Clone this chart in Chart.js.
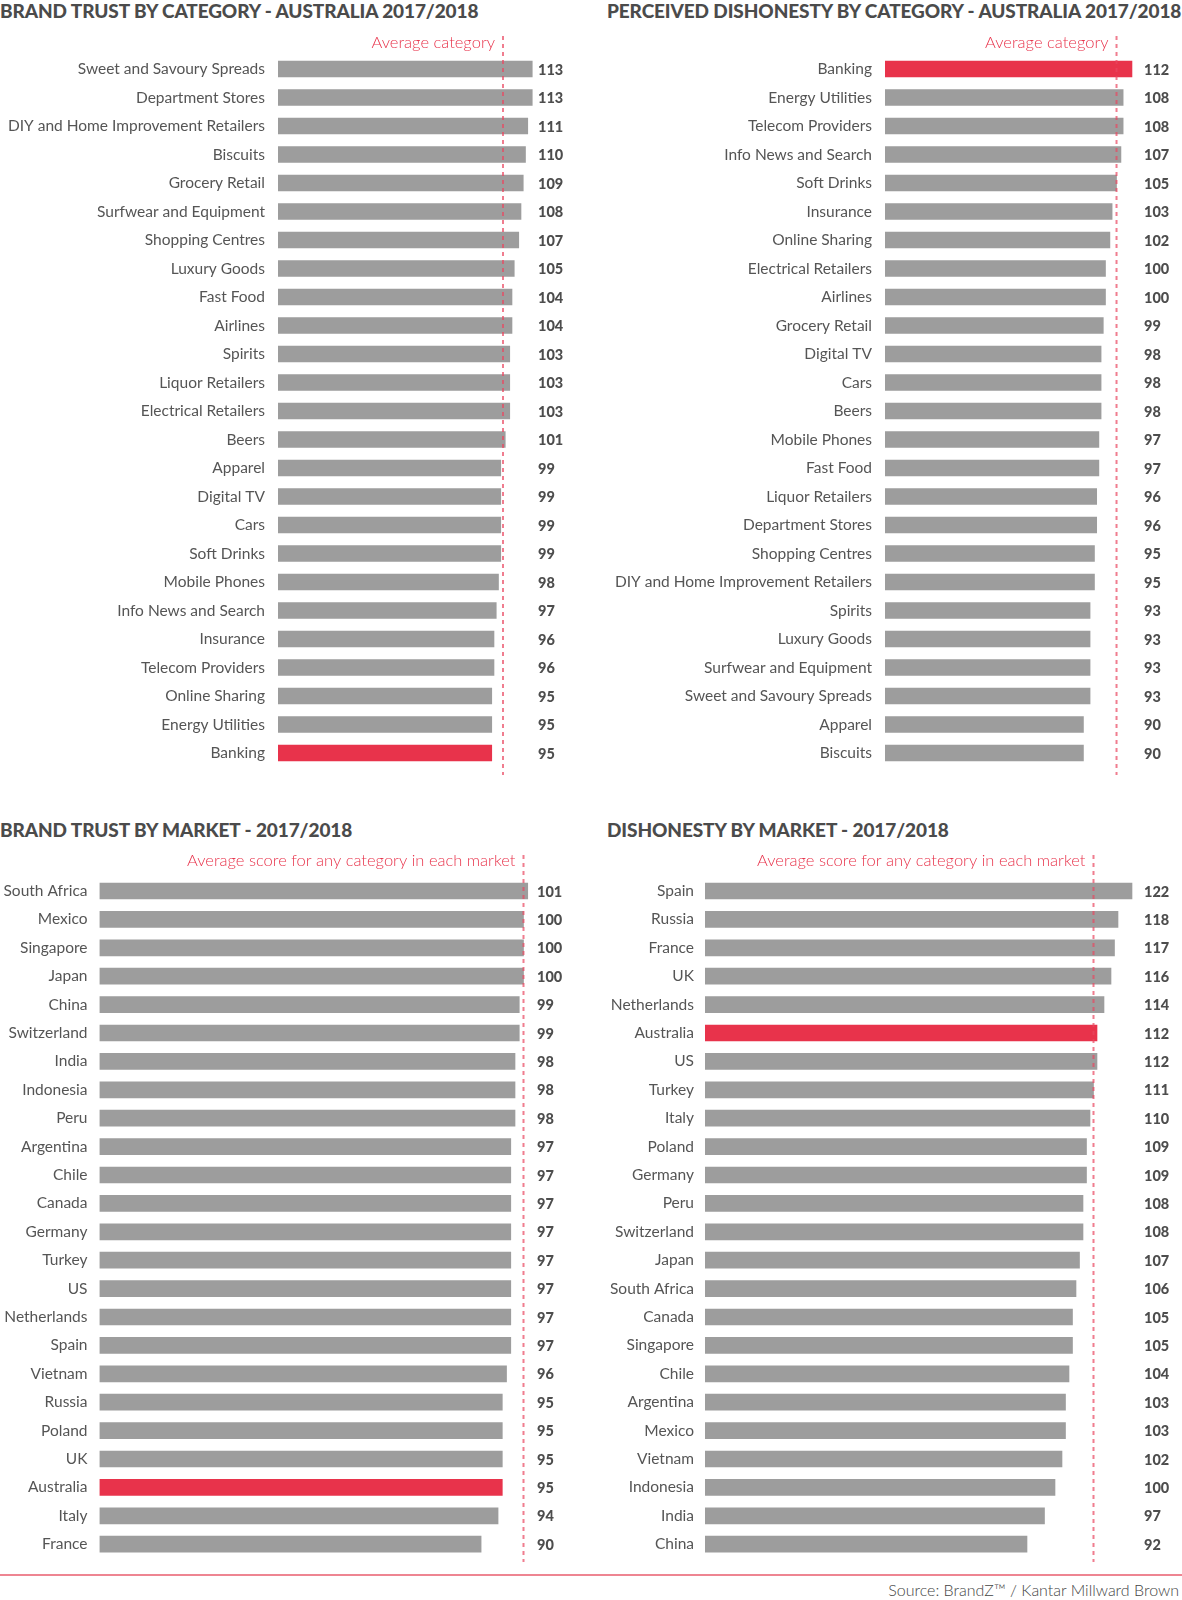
<!DOCTYPE html>
<html>
<head>
<meta charset="utf-8">
<script src="https://cdn.jsdelivr.net/npm/chart.js@4.4.1/dist/chart.umd.min.js"></script>
<style>
body { margin: 0; background: #fff; width: 1182px; height: 1600px; position: relative; overflow: hidden; font-family: Lato, sans-serif; }
.title { position: absolute; font-weight: 900; font-size: 19px; line-height: 1; color: #4b4b4b; white-space: nowrap; letter-spacing: -0.1px; }
canvas { position: absolute; }
#rule { position: absolute; left: 0; top: 1574px; width: 1182px; height: 2px; background: #ee8592; }
#source { position: absolute; right: 3px; top: 1580px; font-size: 16px; font-weight: 300; color: #444; white-space: nowrap; }
</style>
</head>
<body>
<div class="title" style="left:0;top:1px">BRAND TRUST BY CATEGORY - AUSTRALIA 2017/2018</div>
<div class="title" style="left:607px;top:1px">PERCEIVED DISHONESTY BY CATEGORY - AUSTRALIA 2017/2018</div>
<div class="title" style="left:0;top:820px">BRAND TRUST BY MARKET - 2017/2018</div>
<div class="title" style="left:607px;top:820px">DISHONESTY BY MARKET - 2017/2018</div>
<canvas id="trust-category"></canvas>
<canvas id="dishonesty-category"></canvas>
<canvas id="trust-market"></canvas>
<canvas id="dishonesty-market"></canvas>
<div id="rule"></div>
<div id="source">Source: BrandZ™ / Kantar Millward Brown</div>
<script>
const TRUST_CATEGORIES = [
    'Sweet and Savoury Spreads', 'Department Stores', 'DIY and Home Improvement Retailers', 'Biscuits',
    'Grocery Retail', 'Surfwear and Equipment', 'Shopping Centres', 'Luxury Goods', 'Fast Food', 'Airlines',
    'Spirits', 'Liquor Retailers', 'Electrical Retailers', 'Beers', 'Apparel', 'Digital TV', 'Cars',
    'Soft Drinks', 'Mobile Phones', 'Info News and Search', 'Insurance', 'Telecom Providers',
    'Online Sharing', 'Energy Utilities', 'Banking'
];
const TRUST_CATEGORY_SCORES = [113, 113, 111, 110, 109, 108, 107, 105, 104, 104, 103, 103, 103, 101, 99, 99, 99, 99, 98, 97, 96, 96, 95, 95, 95];

const DISHONESTY_CATEGORIES = [
    'Banking', 'Energy Utilities', 'Telecom Providers', 'Info News and Search', 'Soft Drinks', 'Insurance',
    'Online Sharing', 'Electrical Retailers', 'Airlines', 'Grocery Retail', 'Digital TV', 'Cars', 'Beers',
    'Mobile Phones', 'Fast Food', 'Liquor Retailers', 'Department Stores', 'Shopping Centres',
    'DIY and Home Improvement Retailers', 'Spirits', 'Luxury Goods', 'Surfwear and Equipment',
    'Sweet and Savoury Spreads', 'Apparel', 'Biscuits'
];
const DISHONESTY_CATEGORY_SCORES = [112, 108, 108, 107, 105, 103, 102, 100, 100, 99, 98, 98, 98, 97, 97, 96, 96, 95, 95, 93, 93, 93, 93, 90, 90];

const TRUST_MARKETS = [
    'South Africa', 'Mexico', 'Singapore', 'Japan', 'China', 'Switzerland', 'India', 'Indonesia', 'Peru',
    'Argentina', 'Chile', 'Canada', 'Germany', 'Turkey', 'US', 'Netherlands', 'Spain', 'Vietnam', 'Russia',
    'Poland', 'UK', 'Australia', 'Italy', 'France'
];
const TRUST_MARKET_SCORES = [101, 100, 100, 100, 99, 99, 98, 98, 98, 97, 97, 97, 97, 97, 97, 97, 97, 96, 95, 95, 95, 95, 94, 90];

const DISHONESTY_MARKETS = [
    'Spain', 'Russia', 'France', 'UK', 'Netherlands', 'Australia', 'US', 'Turkey', 'Italy', 'Poland',
    'Germany', 'Peru', 'Switzerland', 'Japan', 'South Africa', 'Canada', 'Singapore', 'Chile', 'Argentina',
    'Mexico', 'Vietnam', 'Indonesia', 'India', 'China'
];
const DISHONESTY_MARKET_SCORES = [122, 118, 117, 116, 114, 112, 112, 111, 110, 109, 109, 108, 108, 107, 106, 105, 105, 104, 103, 103, 102, 100, 97, 92];

// average reference lines
const TRUST_CATEGORY_AVERAGE = 100;
const DISHONESTY_CATEGORY_AVERAGE = 105;
const TRUST_MARKET_AVERAGE = 100;
const DISHONESTY_MARKET_AVERAGE = 111;

const GREY = '#9d9d9d';
const RED = '#e8334b';
const LINE_RED = 'rgba(234, 70, 95, 0.7)';
const TEXT = '#555555';


const overlay = {
    id: 'overlay',
    afterDatasetsDraw(chart, args, opts) {
        const ctx = chart.ctx;
        const x = chart.scales.x.getPixelForValue(opts.average);
        ctx.save();

        // dashed average line
        ctx.strokeStyle = LINE_RED;
        ctx.lineWidth = 2;
        ctx.setLineDash([4, 4]);
        ctx.beginPath();
        ctx.moveTo(x, opts.lineTop);
        ctx.lineTo(x, opts.lineBottom);
        ctx.stroke();
        ctx.setLineDash([]);

        ctx.fillStyle = RED;
        ctx.font = '300 16.5px Lato';
        ctx.textAlign = 'right';
        ctx.textBaseline = 'middle';
        ctx.fillText(opts.note, x - 8, opts.noteY);

        // values
        ctx.fillStyle = '#4d4d4d';
        ctx.font = '900 14.5px Lato';
        ctx.textAlign = 'left';
        const values = chart.data.datasets[0].data;
        chart.getDatasetMeta(0).data.forEach((bar, i) => {
            ctx.fillText(values[i], opts.valueX, bar.y + 1);
        });
        ctx.restore();
    }
};


function makeChart(id, labels, values, highlight, average, note, box) {
    const canvas = document.getElementById(id);
    canvas.width = box.width;
    canvas.height = box.height;
    canvas.style.left = box.left + 'px';
    canvas.style.top = box.top + 'px';

    const axisWidth = box.barStart - box.left;
    const half = box.rowGap / 2;
    const lastRow = box.firstRow + box.rowGap * (labels.length - 1);

    new Chart(canvas, {
        type: 'bar',
        data: {
            labels,
            datasets: [{
                data: values,
                backgroundColor: labels.map((l) => l === highlight ? RED : GREY),
                barThickness: 16
            }]
        },
        options: {
            indexAxis: 'y',
            responsive: false,
            animation: false,
            layout: {
                padding: {
                    left: 0,
                    top: box.firstRow - half - box.top,
                    bottom: box.top + box.height - (lastRow + half),
                    right: box.width - axisWidth - box.max * box.ppu
                }
            },
            scales: {
                x: { display: false, min: 0, max: box.max },
                y: {
                    grid: { display: false, drawTicks: false },
                    border: { display: false },
                    ticks: {
                        autoSkip: false,
                        padding: box.labelGap,
                        color: TEXT,
                        font: { family: 'Lato', size: 15.5, weight: 400 }
                    },
                    afterFit: (scale) => { scale.width = axisWidth; }
                }
            },
            plugins: {
                legend: { display: false },
                tooltip: { enabled: false },
                overlay: {
                    average,
                    note,
                    noteY: box.noteY - box.top,
                    lineTop: box.lineTop - box.top,
                    lineBottom: box.lineBottom - box.top,
                    valueX: box.valueX - box.left
                }
            }
        },
        plugins: [overlay]
    });
}


makeChart('trust-category', TRUST_CATEGORIES, TRUST_CATEGORY_SCORES, 'Banking',
    TRUST_CATEGORY_AVERAGE, 'Average category', {
        left: 0, top: 0, width: 590, height: 790,
        barStart: 278, ppu: 2.25, max: 130, firstRow: 69, rowGap: 28.5, labelGap: 13,
        noteY: 43, lineTop: 36, lineBottom: 775, valueX: 538
    });

makeChart('dishonesty-category', DISHONESTY_CATEGORIES, DISHONESTY_CATEGORY_SCORES, 'Banking',
    DISHONESTY_CATEGORY_AVERAGE, 'Average category', {
        left: 595, top: 0, width: 587, height: 790,
        barStart: 885, ppu: 2.205, max: 130, firstRow: 69, rowGap: 28.5, labelGap: 13,
        noteY: 43, lineTop: 36, lineBottom: 775, valueX: 1144
    });

makeChart('trust-market', TRUST_MARKETS, TRUST_MARKET_SCORES, 'Australia',
    TRUST_MARKET_AVERAGE, 'Average score for any category in each market', {
        left: 0, top: 800, width: 590, height: 780,
        barStart: 99.5, ppu: 4.24, max: 110, firstRow: 891, rowGap: 28.4, labelGap: 12,
        noteY: 861, lineTop: 855, lineBottom: 1562, valueX: 537
    });

makeChart('dishonesty-market', DISHONESTY_MARKETS, DISHONESTY_MARKET_SCORES, 'Australia',
    DISHONESTY_MARKET_AVERAGE, 'Average score for any category in each market', {
        left: 595, top: 800, width: 587, height: 780,
        barStart: 705, ppu: 3.5, max: 130, firstRow: 891, rowGap: 28.4, labelGap: 11,
        noteY: 861, lineTop: 855, lineBottom: 1562, valueX: 1144
    });
</script>
</body>
</html>
